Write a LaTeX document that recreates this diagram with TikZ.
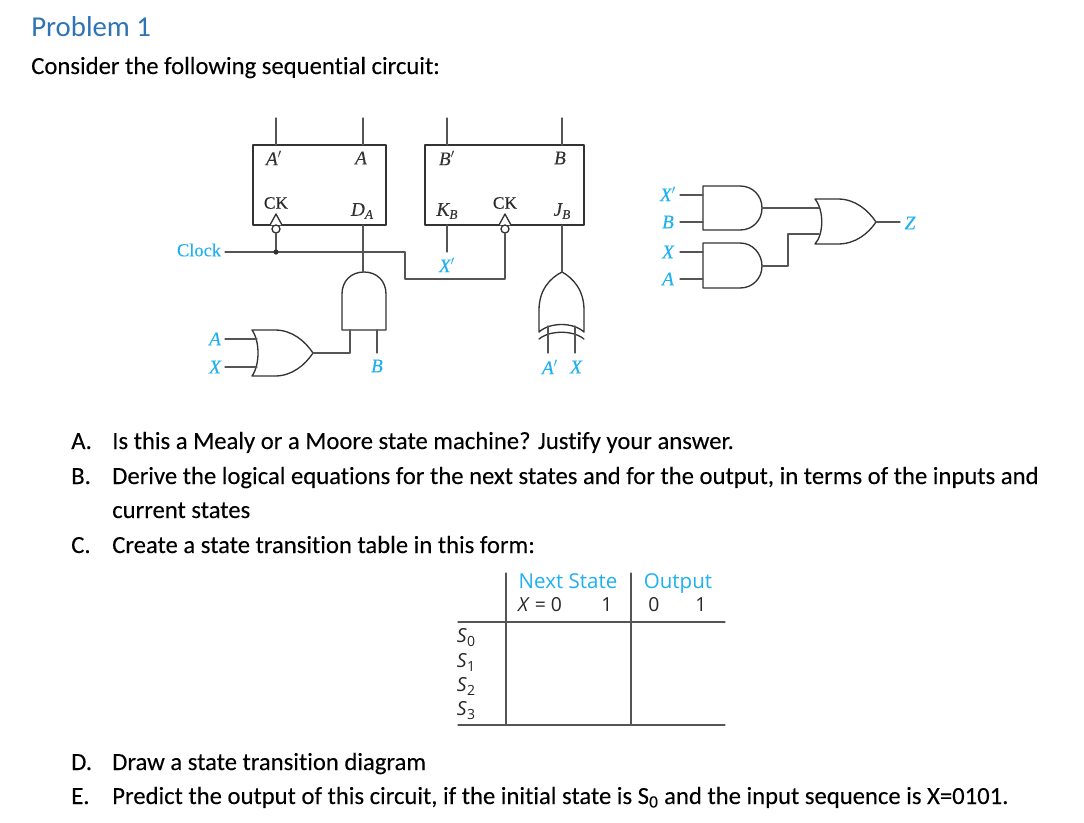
\documentclass[tikz,border=0pt]{standalone}
\usepackage{fontspec}
\setmainfont[Ligatures=NoCommon,FakeBold=0.12]{Carlito}
\newfontfamily\titlefont[Ligatures=NoCommon]{Carlito}
\newfontfamily\figfont[FakeBold=0.1]{Liberation Serif}
\newfontfamily\tabfont{Open Sans}
\usepackage{xcolor}
\usepackage{tikz}
\definecolor{Heading}{HTML}{2E74B5}
\definecolor{FigCyan}{HTML}{1FB0F0}
\definecolor{WireGray}{HTML}{555555}
\newcommand{\subl}[1]{\raisebox{-0.35ex}{\fontsize{10}{10}\selectfont #1}}
\newcommand{\subs}[1]{\raisebox{-0.4ex}{\fontsize{10.5}{10}\selectfont #1}}

\tikzset{
    wire/.style={line width=0.8pt,color=WireGray},
    gate/.style={line width=1pt,color=black!80},
    ffbox/.style={draw=black!80,line width=1pt,inner sep=0pt},
    siglabel/.style={color=FigCyan,font=\figfont\itshape\fontsize{14.5}{15}\selectfont,inner sep=0pt},
    pinlabel/.style={color=black!80,font=\figfont\itshape\fontsize{14.5}{15}\selectfont,inner sep=0pt},
    cklabel/.style={color=black!85,font=\figfont\fontsize{13}{14}\selectfont,inner sep=0pt},
    body/.style={anchor=base west,inner sep=0pt,font=\fontsize{18.5}{22}\selectfont},
    tabhead/.style={color=FigCyan,inner sep=0pt,anchor=base,font=\tabfont\fontsize{15.4}{18}\selectfont},
    tabtext/.style={color=black!85,inner sep=0pt,anchor=base,font=\tabfont\fontsize{14.5}{18}\selectfont},
}

\begin{document}
\begin{tikzpicture}[line cap=round,line join=round,x=0.75pt,y=-0.75pt]
    \useasboundingbox (0,0) rectangle (1084,822);

    % page text
    \node[body,color=Heading,font=\titlefont\fontsize{21.6}{26}\selectfont] (title) at (31,36) {Problem 1};
    \node[body] (intro) at (31,74) {Consider the following sequential circuit:};
    \node[body] (markA) at (71,449) {A.};
    \node[body] (textA) at (112,449) {Is this a Mealy or a Moore state machine? Justify your answer.};
    \node[body] (markB) at (71,484) {B.};
    \node[body] (textB) at (112,484) {Derive the logical equations for the next states and for the output, in terms of the inputs and};
    \node[body] (textBb) at (112,518) {current states};
    \node[body] (markC) at (71,553) {C.};
    \node[body] (textC) at (112,553) {Create a state transition table in this form:};
    \node[body] (markD) at (71,770) {D.};
    \node[body] (textD) at (112,770) {Draw a state transition diagram};
    \node[body] (markE) at (71,804) {E.};
    \node[body] (textE) at (112,804) {Predict the output of this circuit, if the initial state is S\textsubscript{0} and the input sequence is X=0101.};

    % flip-flops
    \node[ffbox,minimum width=99.75pt,minimum height=60pt] (ffA) at (319.5,185) {};
    \node[ffbox,minimum width=119.25pt,minimum height=60pt] (ffB) at (504.5,185) {};
    \node[pinlabel] (qnA) at (274,158) {A$'$};
    \node[pinlabel] (qA) at (361,158) {A};
    \node[cklabel] (ckA) at (276,203) {CK};
    \node[pinlabel] (dA) at (362,211) {D\subl{A}};
    \node[pinlabel] (qnB) at (447,158) {B$'$};
    \node[pinlabel] (qB) at (560,158) {B};
    \node[pinlabel] (kB) at (447,211) {K\subl{B}};
    \node[cklabel] (ckB) at (505,203) {CK};
    \node[pinlabel] (jB) at (562,211) {J\subl{B}};

    \coordinate (topA1) at (276,118);
    \coordinate (pinA1) at (276,145);
    \coordinate (topA2) at (363,118);
    \coordinate (pinA2) at (363,145);
    \coordinate (topB1) at (447,118);
    \coordinate (pinB1) at (447,145);
    \coordinate (topB2) at (562,118);
    \coordinate (pinB2) at (562,145);
    \draw[wire] (topA1) -- (pinA1);
    \draw[wire] (topA2) -- (pinA2);
    \draw[wire] (topB1) -- (pinB1);
    \draw[wire] (topB2) -- (pinB2);

    % clock inputs
    \draw[gate,fill=white] (270,225) -- (276,214) -- (282,225);
    \draw[gate,fill=white] (499,225) -- (505,214) -- (511,225);
    \draw[gate,fill=white] (276,229) circle (4);
    \draw[gate,fill=white] (505,229) circle (4);

    % clock line
    \node[siglabel,font=\figfont\fontsize{13.8}{14}\selectfont] (clock) at (199,250) {Clock};
    \coordinate (clkstart) at (225,252);
    \coordinate (clkdot) at (276,252);
    \coordinate (bubA) at (276,233);
    \coordinate (bubB) at (505,233);
    \draw[wire] (clkstart) -- (405,252) -- (405,279) -- (505,279) -- (bubB);
    \draw[wire] (clkdot) -- (bubA);
    \draw[fill=black!80,draw=none] (clkdot) circle (2.6);

    % D input: and gate and or gate
    \draw[gate] (342,330) -- (342,294) .. controls (342,281) and (351,272) .. (364,272) .. controls (377,272) and (386,281) .. (386,294) -- (386,330) -- cycle;
    \coordinate (dpin) at (363,225);
    \coordinate (andtop) at (363,272);
    \draw[wire] (dpin) -- (andtop);
    \draw[gate] (252,330) -- (275,330) .. controls (292,330) and (305,341) .. (313,353) .. controls (305,365) and (292,376) .. (275,376) -- (252,376) .. controls (260,365) and (260,341) .. (252,330) -- cycle;
    \coordinate (ortip) at (313,353);
    \coordinate (andin1) at (350,330);
    \coordinate (andin2) at (377,330);
    \coordinate (bend) at (377,353);
    \draw[wire] (ortip) -- (350,353) -- (andin1);
    \draw[wire] (andin2) -- (bend);
    \draw[wire] (225,339) -- (257,339);
    \draw[wire] (225,367) -- (257,367);
    \node[siglabel] (inA) at (215,339) {A};
    \node[siglabel] (inX) at (215,367) {X};
    \node[siglabel] (inB) at (377,366) {B};

    % K and J inputs
    \coordinate (kpin) at (447,225);
    \coordinate (kend) at (447,252);
    \draw[wire] (kpin) -- (kend);
    \node[siglabel] (inXn) at (447,265) {X$'$};
    \draw[gate] (562,272) .. controls (550,278) and (539,290) .. (539,310) -- (539,332) .. controls (550,322) and (573,322) .. (584,332) -- (584,310) .. controls (584,290) and (573,278) .. (562,272) -- cycle;
    \draw[gate] (539,339) .. controls (550,330) and (573,330) .. (584,339);
    \coordinate (jpin) at (562,225);
    \coordinate (xortop) at (562,272);
    \draw[wire] (jpin) -- (xortop);
    \draw[wire] (548,326) -- (548,353);
    \draw[wire] (575,326) -- (575,353);
    \node[siglabel] (inAn) at (550,367) {A$'$};
    \node[siglabel] (inXb) at (576,367) {X};

    % output logic
    \draw[gate] (703,186) -- (740,186) .. controls (753,186) and (762,196) .. (762,208) .. controls (762,220) and (753,230) .. (740,230) -- (703,230) -- cycle;
    \draw[gate] (703,243) -- (740,243) .. controls (753,243) and (762,254) .. (762,266) .. controls (762,278) and (753,288) .. (740,288) -- (703,288) -- cycle;
    \draw[gate] (815,199) -- (838,199) .. controls (855,199) and (868,210) .. (876,222) .. controls (868,234) and (855,244) .. (838,244) -- (815,244) .. controls (824,234) and (824,210) .. (815,199) -- cycle;
    \draw[wire] (680,195) -- (703,195);
    \draw[wire] (680,222) -- (703,222);
    \draw[wire] (680,252) -- (703,252);
    \draw[wire] (680,279) -- (703,279);
    \draw[wire] (762,208) -- (819,208);
    \draw[wire] (762,266) -- (788,266) -- (788,234) -- (819,234);
    \draw[wire] (876,222) -- (900,222);
    \node[siglabel] (outXn) at (668,194) {X$'$};
    \node[siglabel] (outB) at (668,222) {B};
    \node[siglabel] (outX) at (668,252) {X};
    \node[siglabel] (outA) at (668,279) {A};
    \node[siglabel] (outZ) at (910,223) {Z};

    % table
    \draw[wire] (506,573) -- (506,725);
    \draw[wire] (631,573) -- (631,725);
    \draw[wire] (458,622) -- (725,622);
    \draw[wire] (458,725) -- (725,725);
    \node[tabhead] (nexthead) at (568,588) {Next State};
    \node[tabhead] (outhead) at (678,588) {Output};
    \node[tabtext] (colx0) at (540,611) {\textit{X} = 0};
    \node[tabtext] (colx1) at (607,611) {1};
    \node[tabtext] (colo0) at (654,611) {0};
    \node[tabtext] (colo1) at (701,611) {1};
    \node[tabtext] (rowS0) at (466,642) {\textit{S}\subs{0}};
    \node[tabtext] (rowS1) at (466,667) {\textit{S}\subs{1}};
    \node[tabtext] (rowS2) at (466,691) {\textit{S}\subs{2}};
    \node[tabtext] (rowS3) at (466,715) {\textit{S}\subs{3}};
\end{tikzpicture}
\end{document}
